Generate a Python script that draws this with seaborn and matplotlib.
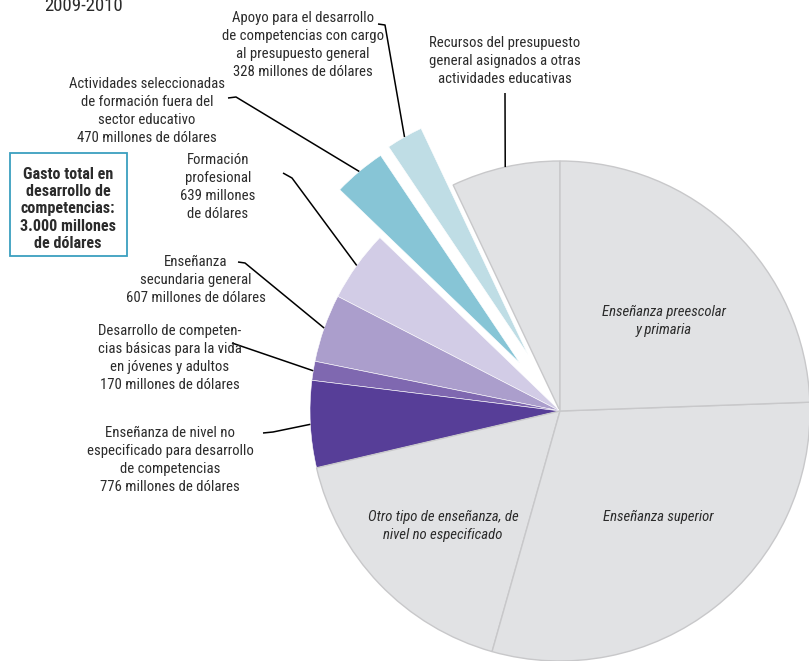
import numpy as np
import seaborn as sns
import matplotlib
matplotlib.use("Agg")
from matplotlib import pyplot as plt
from matplotlib import font_manager
from matplotlib.patches import Rectangle

# spending by category, millions of dollars, in pie order (counter-clockwise from top)
categories = [
    "Recursos del presupuesto\ngeneral asignados a otras\nactividades educativas",
    "Apoyo para el desarrollo\nde competencias con cargo\nal presupuesto general\n328 millones de dólares",
    "Actividades seleccionadas\nde formación fuera del\nsector educativo\n470 millones de dólares",
    "Formación\nprofesional\n639 millones\nde dólares",
    "Enseñanza\nsecundaria general\n607 millones de dólares",
    "Desarrollo de competen-\ncias básicas para la vida\nen jóvenes y adultos\n170 millones de dólares",
    "Enseñanza de nivel no\nespecificado para desarrollo\nde competencias\n776 millones de dólares",
    "Otro tipo de enseñanza, de\nnivel no especificado",
    "Enseñanza superior",
    "Enseñanza preescolar\ny primaria",
]
values = [972, 328, 470, 639, 607, 170, 776, 2346, 4140, 3379]
pull = [0, 0.26, 0.25, 0, 0, 0, 0, 0, 0, 0]
colors = ["#e1e2e4", "#bfdde5", "#87c5d6", "#d2cce6", "#ab9ecc",
          "#7f68b0", "#573e98", "#e1e2e4", "#e1e2e4", "#e1e2e4"]
gray = [True, False, False, False, False, False, False, True, True, True]

sns.set_theme(style="white")
installed = {f.name for f in font_manager.fontManager.ttflist}
narrow = [n for n in ["Liberation Sans Narrow", "DejaVu Sans Condensed",
                      "Roboto Condensed", "Open Sans Condensed", "Roboto"]
          if n in installed]
plt.rcParams["font.family"] = narrow + ["DejaVu Sans"]
plt.rcParams["font.stretch"] = "condensed"

W, H = 809, 661
fig = plt.figure(figsize=(W / 100, H / 100), dpi=100)
ax = fig.add_axes([0, 0, 1, 1])


def py(y):
    # pixel-from-top to data y
    return H - y


cx, cy, R = 560, py(411), 250
wedges, _ = ax.pie(values, explode=[p * R for p in pull], colors=colors,
                   startangle=90, counterclock=True, center=(cx, cy),
                   radius=R, frame=True)
ax.set_xlim(0, W)
ax.set_ylim(0, H)
ax.set_aspect("equal")
ax.axis("off")
for w, g in zip(wedges, gray):
    if g:
        w.set_edgecolor("#c8c8ca")
        w.set_linewidth(1.0)
    else:
        w.set_edgecolor("white")
        w.set_linewidth(0.4)

txt = "#2b2b2b"
fs = 10.6


def arc_mid(w):
    a = np.deg2rad((w.theta1 + w.theta2) / 2)
    return w.center[0] + w.r * np.cos(a), w.center[1] + w.r * np.sin(a)


# outside labels: (index, text centre, leader polyline start points)
outside = [
    (0, (505, 61), [(505, 93)]),
    (1, (303, 45), [(378, 24), (385, 25)]),
    (2, (147, 111), [(228, 98), (236, 97)]),
    (3, (218, 187), [(283, 173), (292, 178)]),
    (4, (196, 280), [(238, 262), (245, 263)]),
    (5, (170, 358), [(232, 343)]),
    (6, (170, 460), [(263, 433), (273, 432)]),
]
for i, (tx, ty), pts in outside:
    ax.text(tx, py(ty), categories[i], ha="center", va="center", fontsize=fs,
            color=txt, linespacing=1.38)
    ex, ey = arc_mid(wedges[i])
    xs = [p[0] for p in pts] + [ex]
    ys = [py(p[1]) for p in pts] + [ey]
    ax.plot(xs, ys, color="black", lw=1.1, solid_capstyle="butt")

# inside labels
inside = [(7, (443, 526)), (8, (658, 517)), (9, (664, 321))]
for i, (tx, ty) in inside:
    ax.text(tx, py(ty), categories[i], ha="center", va="center", fontsize=fs,
            color=txt, style="italic", linespacing=1.38)

# total box
ax.add_patch(Rectangle((10, py(256)), 117, 103, fill=False, ec="#3a9fbf", lw=1.3))
ax.text(68, py(209), "Gasto total en\ndesarrollo de\ncompetencias:\n3.000 millones\nde dólares",
        ha="center", va="center", fontsize=11.6, fontweight="bold", color=txt,
        linespacing=1.18)

ax.text(44, py(11), "2009-2010", ha="left", va="baseline", fontsize=13.5, color=txt)

fig.savefig("out.png", dpi=100)
